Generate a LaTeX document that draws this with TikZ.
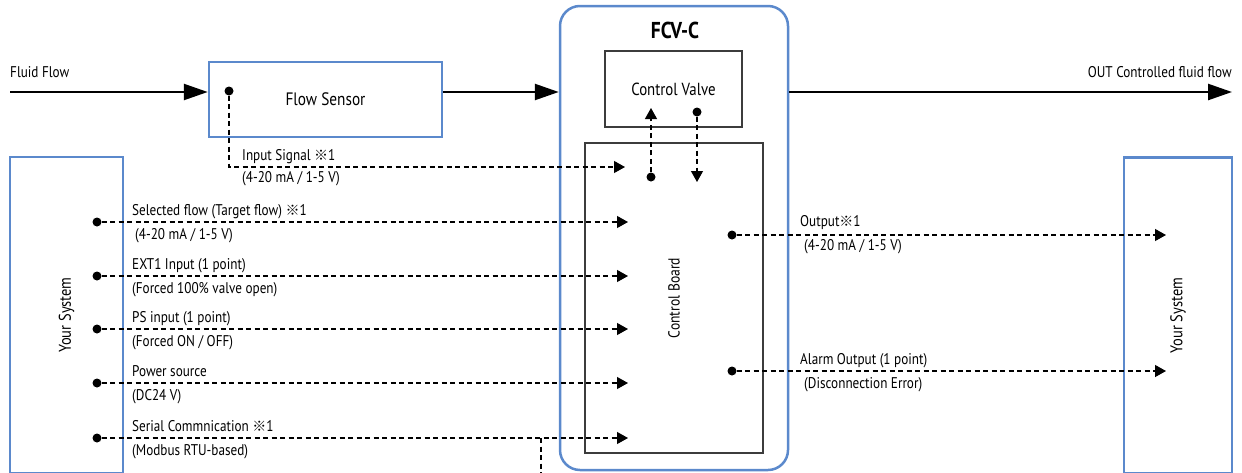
\documentclass[tikz,border=0pt]{standalone}
\usepackage{fontspec}
\setmainfont{PT Sans}[FakeStretch=0.85]
\newfontfamily\cjk{Noto Sans CJK JP}
\usepackage{xcolor}
\usetikzlibrary{arrows.meta}
\definecolor{sysblue}{RGB}{91,137,204}
\definecolor{boardgray}{RGB}{60,60,60}
\newcommand{\kome}{{\cjk\fontsize{14}{16}\selectfont ※}}
\newcommand{\lblsize}{\fontsize{15.5}{18}\selectfont}
\tikzset{
  bluebox/.style={draw=sysblue, line width=2.5pt, inner sep=0pt},
  greybox/.style={draw=boardgray, line width=1.3pt, inner sep=0pt},
  flow/.style={line width=2.5pt, -{Triangle[length=24pt,width=16pt]}},
  sig/.style={line width=1.2pt, dash pattern=on 5pt off 3.5pt, -{Triangle[length=11pt,width=12pt]}},
  pin/.style={circle, fill=black, inner sep=0pt, minimum size=9pt},
  lbl/.style={anchor=base west, inner sep=0pt, font=\lblsize},
}

\begin{document}
\begin{tikzpicture}[x=1pt,y=-1pt]
    \useasboundingbox (0,0) rectangle (1242,472);
    \node[bluebox, minimum width=233pt, minimum height=75pt, font=\fontsize{18}{20}\selectfont] (sensor) at (325.5,99.5) {Flow Sensor};
    \node[bluebox, rounded corners=20pt, minimum width=228pt, minimum height=464pt] (fcv) at (674,238) {};
    \node[font=\bfseries\fontsize{23}{26}\selectfont] (fcvname) at (675,30) {FCV-C};
    \node[greybox, minimum width=137pt, minimum height=76pt, font=\fontsize{17.5}{20}\selectfont] (valve) at (673.5,89) {Control Valve};
    \node[greybox, rotate=90, minimum width=310pt, minimum height=178pt, font=\fontsize{16}{18}\selectfont] (board) at (674,298) {Control Board};
    \node[bluebox, rotate=90, minimum width=316pt, minimum height=113pt, font=\fontsize{17}{19}\selectfont] (sysL) at (66.5,315) {Your System};
    \node[bluebox, rotate=90, minimum width=316pt, minimum height=108pt, font=\fontsize{17}{19}\selectfont] (sysR) at (1178,315.5) {Your System};

    \coordinate (inlet) at (10,92);
    \coordinate (outlet) at (1232,92);
    \draw[flow] (inlet) -- (inlet -| sensor.west);
    \draw[flow] (sensor.east |- inlet) -- (fcv.west |- inlet);
    \draw[flow] (fcv.east |- outlet) -- (outlet);
    \node[lbl, anchor=west] (fluidlbl) at (10,72) {Fluid Flow};
    \node[lbl, anchor=east] (outlbl) at (1232,72) {OUT Controlled fluid flow};

    \node[pin] (fsdot) at (229,91) {};
    \coordinate (fsin) at (625,167);
    \draw[sig] (fsdot) |- (fsin);
    \node[lbl] at (242,160) {Input Signal \kome1};
    \node[lbl] at (242,182) {(4-20 mA / 1-5 V)};

    \node[pin] (cbdot) at (651,177) {};
    \coordinate (vin) at (651,108);
    \draw[sig] (cbdot) -- (vin);
    \node[pin] (vdot) at (697,112) {};
    \coordinate (cbin) at (697,182);
    \draw[sig] (vdot) -- (cbin);

    \foreach \n/\y in {1/222,2/276,3/329,4/383,5/438} {
        \node[pin] (src\n) at (97,\y) {};
        \coordinate (dst\n) at (628,\y);
        \draw[sig] (src\n) -- (dst\n);
    }
    \node[lbl] at (132,215) {Selected flow (Target flow) \kome1};
    \node[lbl] at (135,239) {(4-20 mA / 1-5 V)};
    \node[lbl] at (132,269) {EXT1 Input (1 point)};
    \node[lbl] at (132,293) {(Forced 100\% valve open)};
    \node[lbl] at (132,322) {PS input (1 point)};
    \node[lbl] at (132,346) {(Forced ON / OFF)};
    \node[lbl] at (132,376) {Power source};
    \node[lbl] at (132,400) {(DC24 V)};
    \node[lbl] at (132,431) {Serial Commnication \kome1};
    \node[lbl] at (132,455) {(Modbus RTU-based)};
    \coordinate (tap) at (541,438);
    \coordinate (tapend) at (541,480);
    \draw[sig, -] (tap) -- (tapend);

    \foreach \n/\y in {1/235,2/371} {
        \node[pin] (out\n) at (732,\y) {};
        \coordinate (sys\n) at (1166,\y);
        \draw[sig] (out\n) -- (sys\n);
    }
    \node[lbl] at (800,226) {Output\kome1};
    \node[lbl] at (804,250) {(4-20 mA / 1-5 V)};
    \node[lbl] at (800,364) {Alarm Output (1 point)};
    \node[lbl] at (804,388) {(Disconnection Error)};
\end{tikzpicture}
\end{document}
